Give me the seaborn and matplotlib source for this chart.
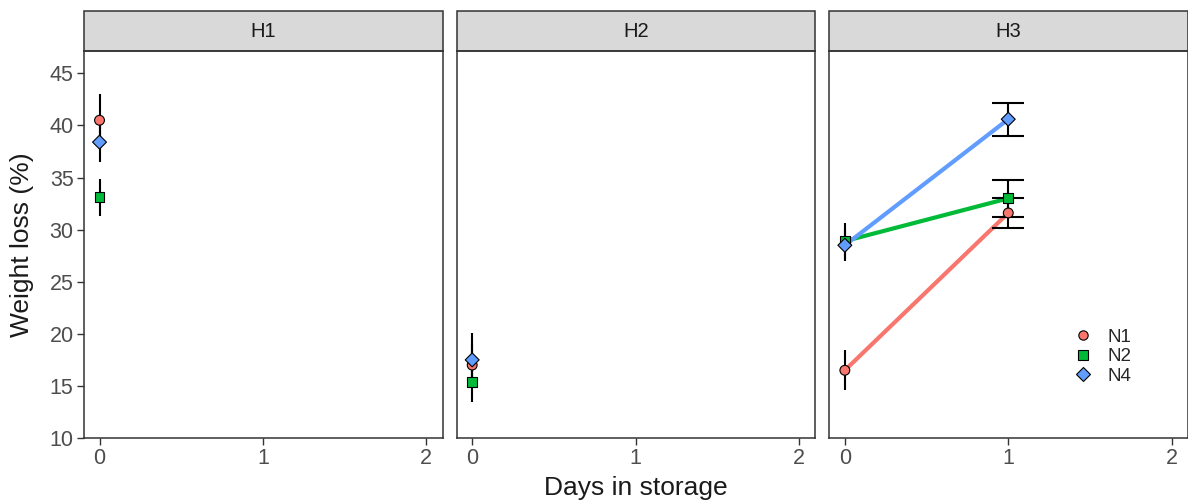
import pandas as pd
import numpy as np
import matplotlib
matplotlib.use("Agg")
import matplotlib.pyplot as plt
from matplotlib.patches import Rectangle
import seaborn as sns

# data
hybrids = ["H1"] * 3 + ["H2"] * 3 + ["H3"] * 6
days = [0, 0, 0, 0, 0, 0, 0, 0, 0, 1, 1, 1]
nitrogen = ["N1", "N2", "N4"] * 4
loss = [40.5, 33.1, 38.4, 17.0, 15.4, 17.5, 16.5, 28.9, 28.5, 31.6, 33.0, 40.6]
se = [2.5, 1.8, 1.9, 2.0, 1.95, 2.6, 1.9, 1.7, 1.55, 1.45, 1.8, 1.6]

panels = ["H1", "H2", "H3"]
levels = ["N1", "N2", "N4"]
palette = {"N1": "#F8766D", "N2": "#00BA38", "N4": "#619CFF"}
markers = {"N1": "o", "N2": "s", "N4": "D"}

df = pd.DataFrame({"hybrid": hybrids, "day": days, "nitrogen": nitrogen,
                   "loss": loss, "se": se})

sns.set_theme(style="white")
plt.rcParams["font.family"] = ["Liberation Sans", "DejaVu Sans"]

g = sns.FacetGrid(df, col="hybrid", col_order=panels, sharey=True, sharex=True)
g.figure.set_size_inches(11.88, 5.01)
g.figure.subplots_adjust(left=84 / 1188, right=1.0, bottom=1 - 438 / 501,
                         top=1 - 51.5 / 501, wspace=14 / 359)

for ax, h in zip(g.axes.flat, panels):
    sub = df[df.hybrid == h]
    if sub.day.nunique() > 1:
        sns.lineplot(data=sub, x="day", y="loss", hue="nitrogen", hue_order=levels,
                     palette=palette, linewidth=3, legend=False, ax=ax, zorder=1)
    # error bars: no caps at day 0, caps at later days
    for d, grp in sub.groupby("day"):
        ax.errorbar(grp.day, grp.loss, yerr=grp.se, fmt="none", ecolor="black",
                    elinewidth=1.5, capsize=0 if d == 0 else 11.5, capthick=1.5,
                    zorder=2)
    sns.scatterplot(data=sub, x="day", y="loss", hue="nitrogen", style="nitrogen",
                    hue_order=levels, style_order=levels, palette=palette,
                    markers=markers, s=50, edgecolor="black", linewidth=0.8,
                    ax=ax, zorder=3, legend=(h == "H3"))

    ax.set_xlim(-0.095, 2.1)
    ax.set_ylim(10, 47.1)
    ax.set_xticks([0, 1, 2])
    ax.set_yticks(range(10, 50, 5))
    ax.set_xlabel("")
    ax.set_ylabel("")
    ax.set_title("")
    for s in ax.spines.values():
        s.set_visible(True)
        s.set_color("#333333")
        s.set_linewidth(1.1)
    ax.tick_params(axis="both", which="both", length=5, width=1, color="#333333",
                   labelsize=15.5, labelcolor="#4D4D4D", bottom=True, left=True,
                   pad=2.5)
    if h != "H1":
        ax.tick_params(axis="y", left=False, labelleft=False)

    # grey strip above each panel
    ax.add_patch(Rectangle((0, 1), 1, 40 / 386.5, transform=ax.transAxes,
                           clip_on=False, facecolor="#D9D9D9", edgecolor="#333333",
                           linewidth=1.1))
    ax.text(0.5, 1 + 20 / 386.5, h, transform=ax.transAxes, ha="center",
            va="center", fontsize=14.5, color="#1A1A1A")

    if h == "H3":
        leg = ax.legend(loc="center left", bbox_to_anchor=(0.635, 0.21), frameon=False,
                        fontsize=13.5, handletextpad=0.3, labelspacing=0.12,
                        borderaxespad=0, markerscale=0.95)

g.figure.text(636 / 1188, 1 - 488 / 501, "Days in storage", ha="center", va="center",
              fontsize=19, color="#1A1A1A")
g.figure.text(22 / 1188, 1 - 245 / 501, "Weight loss (%)", ha="center", va="center",
              rotation=90, fontsize=19, color="#1A1A1A")

g.figure.savefig("out.png", dpi=100)
